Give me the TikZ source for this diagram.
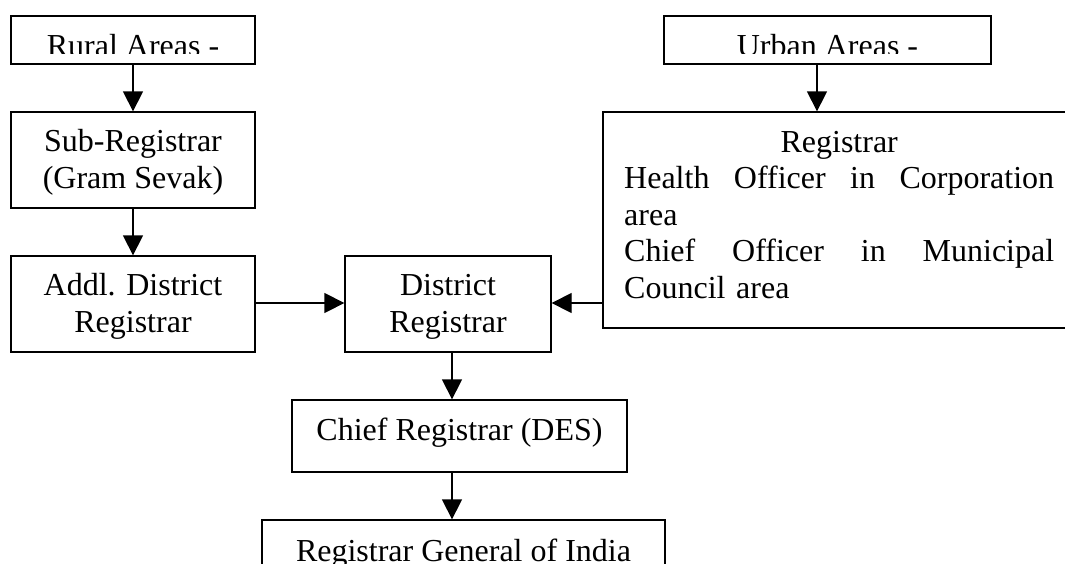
\documentclass[tikz,border=0pt]{standalone}
\usepackage{fontspec}
\setmainfont{Liberation Serif}
\usetikzlibrary{arrows.meta}
\newcommand{\tallline}{\rule{0pt}{27pt}}
\newcommand{\deepline}{\rule[-14pt]{0pt}{14pt}}
\newcommand{\spreadline}[1]{\leavevmode\hbox to 430pt{#1}}
\begin{document}
\begin{tikzpicture}[x=1pt,y=-1pt,
  box/.style={draw, line width=1.3pt, inner sep=0pt, align=center,
    font=\fontsize{32}{36.5}\selectfont},
  lbl/.style={inner sep=0pt, font=\fontsize{32}{36.5}\selectfont},
  arr/.style={line width=1.3pt, -{Triangle[length=20pt,width=20pt]}}]
\clip (0,0) rectangle (1065,563);
\fill[white] (0,0) rectangle (1065,563);

% rural chain
\node[box, minimum width=244pt, minimum height=48pt] (rural) at (133,40) {};
\begin{scope}
  \clip (11,16) rectangle (255,53);
  \node[lbl, anchor=base] (ruraltext) at (133,56) {Rural Areas -};
\end{scope}
\node[box, minimum width=244pt, minimum height=96pt] (sub) at (133,160) {\tallline Sub-Registrar\\(Gram Sevak)};
\node[box, minimum width=244pt, minimum height=96pt] (addl) at (133,304) {\tallline Addl. District\\Registrar};

% central chain
\node[box, minimum width=206pt, minimum height=96pt] (district) at (448,304) {\tallline District\\Registrar};
\node[box, minimum width=335pt, minimum height=72pt] (chief) at (459.5,436) {Chief Registrar (DES)\deepline};
\node[box, minimum width=403pt, minimum height=100pt] (rgi) at (463.5,570) {};
\node[lbl, anchor=base] (rgitext) at (463.5,561) {Registrar General of India};

% urban chain
\node[box, minimum width=327pt, minimum height=48pt] (urban) at (827.5,40) {};
\begin{scope}
  \clip (664,16) rectangle (991,53);
  \node[lbl, anchor=base] (urbantext) at (827.5,56) {Urban Areas -};
\end{scope}
\node[box, minimum width=497pt, minimum height=216pt] (regbox) at (851.5,220) {};
\node[lbl, text width=430pt, align=left, anchor=north west] (regtext) at (624,128)
  {\makebox[430pt]{\rule{0pt}{24pt}Registrar}\\
   \spreadline{Health\hfill Officer\hfill in\hfill Corporation}\\
   area\\
   \spreadline{Chief\hfill Officer\hfill in\hfill Municipal}\\
   Council area};

% connectors
\coordinate (ux) at (817,0);
\coordinate (cx) at (452,0);
\coordinate (hy) at (0,303);
\draw[arr] (rural) -- (sub);
\draw[arr] (sub) -- (addl);
\draw[arr] (addl.east |- hy) -- (district.west |- hy);
\draw[arr] (regbox.west |- hy) -- (district.east |- hy);
\draw[arr] (urban.south -| ux) -- (regbox.north -| ux);
\draw[arr] (district.south -| cx) -- (chief.north -| cx);
\draw[arr] (chief.south -| cx) -- (rgi.north -| cx);
\end{tikzpicture}
\end{document}
